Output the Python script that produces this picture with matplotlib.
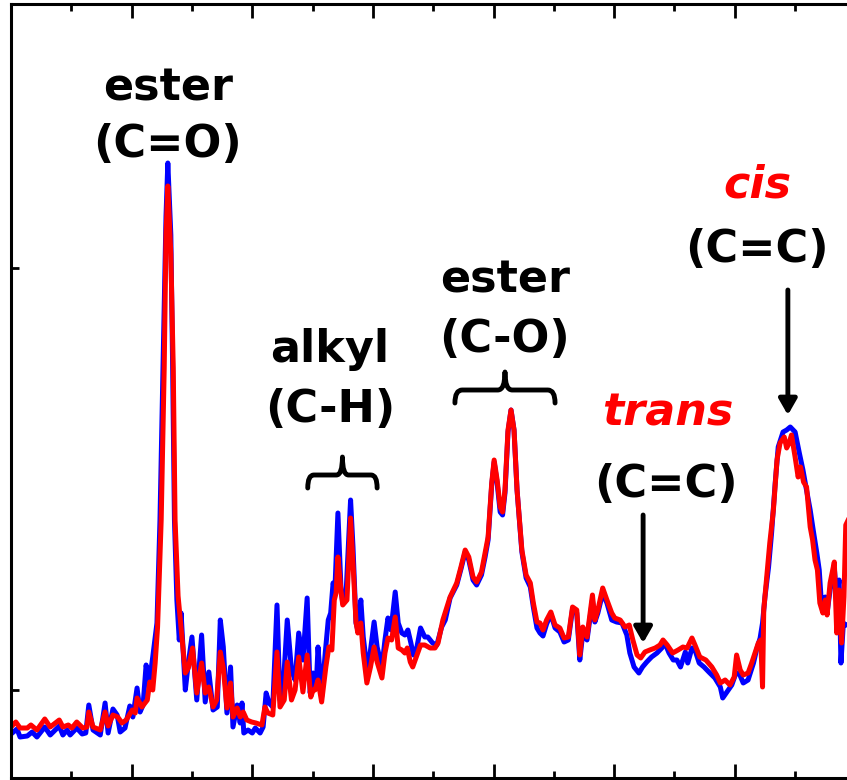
import numpy as np
import matplotlib
matplotlib.use('Agg')
import matplotlib.pyplot as plt
from matplotlib.path import Path
from matplotlib.patches import PathPatch

plt.rcParams['font.family'] = ['DejaVu Sans']

# espectro 1 (azul): numero de onda (cm-1) y absorbancia (u.a.)
wn_azul = [2000, 1990, 1985, 1973, 1965, 1957, 1944, 1935, 1920, 1914, 1907, 1902, 1891, 1882,
           1876, 1871, 1864, 1852, 1844, 1839, 1831, 1824, 1819, 1811, 1803, 1798, 1791, 1786,
           1781, 1776, 1771, 1765, 1758, 1753, 1748, 1743, 1740, 1735, 1732, 1729, 1725, 1721,
           1718, 1711, 1706, 1700, 1692, 1684, 1678, 1672, 1665, 1658, 1653, 1648, 1642, 1636,
           1632, 1625, 1620, 1617, 1614, 1607, 1600, 1595, 1587, 1582, 1577, 1572, 1566, 1559,
           1554, 1549, 1542, 1535, 1529, 1523, 1516, 1509, 1504, 1499, 1494, 1491, 1485, 1479,
           1474, 1470, 1466, 1463, 1458, 1453, 1450, 1445, 1437, 1433, 1428, 1425, 1420, 1416,
           1410, 1406, 1398, 1393, 1385, 1380, 1375, 1370, 1363, 1358, 1352, 1347, 1342, 1337,
           1333, 1327, 1321, 1314, 1309, 1301, 1294, 1286, 1280, 1272, 1261, 1254, 1247, 1241,
           1234, 1228, 1220, 1214, 1209, 1203, 1199, 1194, 1189, 1185, 1181, 1176, 1171, 1166,
           1161, 1153, 1146, 1139, 1134, 1128, 1123, 1118, 1112, 1105, 1098, 1090, 1083, 1076,
           1069, 1062, 1057, 1052, 1045, 1036, 1032, 1027, 1019, 1012, 1004, 996, 987, 979,
           974, 967, 959, 953, 946, 938, 929, 921, 916, 909, 902, 896, 890, 882,
           878, 871, 866, 859, 851, 843, 833, 824, 820, 813, 805, 798, 793, 786,
           778, 769, 764, 758, 754, 750, 744, 739, 733, 728, 720, 714, 708, 700,
           693, 687, 682, 675, 670, 664, 660, 656, 650, 647, 642, 635, 631, 627,
           624, 620, 616, 612]
abs_azul = [46, 51, 43, 44, 48, 43, 53, 45, 54, 45, 50, 45, 52, 46,
            47, 75, 50, 45, 77, 47, 71, 65, 48, 52, 74, 63, 92, 68,
            75, 115, 96, 123, 157, 260, 412, 564, 617, 545, 412, 260, 180, 140,
            167, 90, 117, 143, 80, 145, 78, 108, 70, 73, 160, 133, 67, 113,
            53, 75, 57, 77, 47, 50, 47, 52, 47, 53, 87, 77, 73, 175,
            80, 90, 160, 110, 100, 147, 120, 182, 87, 107, 93, 133, 83, 127,
            160, 167, 197, 190, 267, 193, 177, 180, 280, 233, 157, 150, 180, 143,
            113, 120, 158, 133, 113, 140, 162, 150, 188, 157, 147, 145, 150, 137,
            125, 133, 152, 143, 143, 137, 135, 153, 160, 182, 195, 211, 228, 220,
            200, 195, 205, 223, 240, 295, 318, 297, 268, 265, 287, 348, 370, 350,
            290, 228, 202, 193, 173, 152, 147, 144, 156, 166, 152, 148, 138, 140,
            171, 167, 120, 147, 140, 180, 158, 167, 187, 177, 160, 158, 157, 145,
            127, 113, 107, 113, 118, 123, 127, 132, 137, 127, 120, 120, 113, 128,
            117, 132, 130, 117, 113, 108, 102, 93, 82, 88, 95, 107, 107, 97,
            100, 117, 130, 142, 157, 183, 213, 247, 297, 333, 348, 350, 353, 348,
            327, 310, 293, 270, 250, 227, 210, 173, 183, 167, 190, 212, 183, 200,
            117, 157, 155, 155]

# espectro 2 (rojo)
wn_rojo = [2000, 1992, 1985, 1973, 1967, 1957, 1944, 1935, 1920, 1914, 1905, 1899, 1891, 1881,
           1874, 1871, 1864, 1852, 1844, 1839, 1831, 1823, 1816, 1809, 1799, 1794, 1791, 1783,
           1774, 1770, 1765, 1761, 1757, 1751, 1746, 1743, 1740, 1735, 1731, 1728, 1723, 1720,
           1711, 1706, 1699, 1692, 1684, 1678, 1672, 1665, 1659, 1653, 1648, 1642, 1636, 1632,
           1625, 1620, 1615, 1609, 1601, 1594, 1584, 1579, 1574, 1566, 1559, 1554, 1547, 1542,
           1535, 1529, 1523, 1516, 1509, 1503, 1499, 1496, 1491, 1485, 1478, 1473, 1468, 1464,
           1461, 1458, 1453, 1450, 1443, 1437, 1433, 1428, 1425, 1420, 1416, 1410, 1404, 1398,
           1393, 1385, 1380, 1375, 1369, 1363, 1358, 1352, 1347, 1343, 1338, 1334, 1327, 1321,
           1314, 1305, 1297, 1292, 1284, 1272, 1261, 1254, 1247, 1241, 1234, 1228, 1220, 1214,
           1209, 1203, 1199, 1194, 1189, 1185, 1181, 1176, 1171, 1166, 1161, 1153, 1146, 1139,
           1134, 1128, 1123, 1118, 1112, 1105, 1098, 1090, 1083, 1076, 1069, 1062, 1057, 1052,
           1045, 1036, 1032, 1027, 1019, 1012, 1004, 999, 990, 982, 975, 969, 962, 956,
           949, 941, 932, 924, 919, 912, 903, 894, 886, 879, 871, 866, 858, 848,
           838, 830, 824, 816, 808, 801, 797, 791, 786, 778, 772, 766, 761, 757,
           754, 752, 747, 742, 736, 730, 725, 718, 714, 710, 706, 700, 695, 691,
           686, 681, 675, 671, 667, 663, 659, 654, 650, 647, 642, 635, 631, 627,
           623, 619, 616, 612]
abs_rojo = [53, 58, 52, 52, 55, 50, 61, 53, 60, 53, 55, 52, 58, 52,
            53, 68, 53, 50, 68, 54, 65, 63, 57, 60, 70, 67, 82, 73,
            80, 98, 90, 117, 153, 260, 412, 545, 594, 526, 412, 260, 184, 165,
            107, 112, 132, 87, 117, 87, 93, 73, 80, 128, 112, 72, 97, 63,
            72, 63, 68, 60, 58, 57, 55, 73, 67, 65, 128, 73, 80, 118,
            80, 90, 123, 88, 125, 83, 90, 90, 100, 78, 113, 133, 130, 180,
            187, 223, 190, 175, 180, 262, 217, 158, 147, 157, 127, 97, 113, 133,
            118, 102, 127, 142, 140, 163, 132, 130, 127, 132, 118, 113, 125, 135,
            135, 132, 132, 137, 160, 183, 197, 213, 230, 223, 203, 198, 208, 227,
            243, 297, 320, 300, 273, 268, 290, 350, 370, 350, 290, 230, 205, 197,
            177, 158, 157, 150, 160, 168, 155, 152, 142, 143, 173, 170, 125, 153,
            143, 185, 160, 170, 192, 180, 167, 162, 160, 153, 155, 140, 125, 122,
            128, 130, 132, 135, 140, 135, 127, 130, 133, 132, 142, 135, 123, 120,
            113, 105, 97, 100, 95, 103, 125, 110, 105, 107, 117, 128, 137, 140,
            93, 170, 203, 237, 270, 320, 337, 343, 332, 337, 345, 323, 303, 313,
            298, 293, 253, 240, 220, 210, 177, 167, 180, 165, 197, 218, 147, 190,
            137, 183, 255, 260]


def llave(ax, x0, x1, y, y_ext, y_pico, r):
    ''' dibuja una llave horizontal con el pico hacia arriba '''
    xc = (x0 + x1) / 2
    s = -1 if x1 < x0 else 1
    verts = [(x0, y_ext), (x0, y), (x0 + s * r, y),
             (xc - s * r, y), (xc, y), (xc, y_pico),
             (xc, y), (xc + s * r, y),
             (x1 - s * r, y), (x1, y), (x1, y_ext)]
    codes = [Path.MOVETO, Path.CURVE3, Path.CURVE3,
             Path.LINETO, Path.CURVE3, Path.CURVE3,
             Path.CURVE3, Path.CURVE3,
             Path.LINETO, Path.CURVE3, Path.CURVE3]
    ax.add_patch(PathPatch(Path(verts, codes), fill=False, lw=3.5, color='black',
                           capstyle='round', joinstyle='round'))


fig = plt.figure(figsize=(8.47, 7.80), dpi=100)
ax = fig.add_axes([11 / 847, 2 / 780, 1.0112, 0.9923])

ax.plot(wn_azul, abs_azul, color='#0000ff', lw=3.6, solid_joinstyle='round')
ax.plot(wn_rojo, abs_rojo, color='#ff0000', lw=3.6, solid_joinstyle='round')

ax.set_xlim(2000, 580)
ax.set_ylim(2, 776)
ax.set_xticks([1800, 1600, 1400, 1200, 1000, 800])
ax.set_xticks(np.arange(1900, 600, -200), minor=True)
ax.set_yticks([90, 512])
ax.set_xticklabels([])
ax.set_yticklabels([])
ax.tick_params(axis='x', which='major', direction='in', length=10, width=2, top=True)
ax.tick_params(axis='x', which='minor', direction='in', length=5, width=2, top=True)
ax.tick_params(axis='y', direction='in', length=6, width=2)
for sp in ax.spines.values():
    sp.set_linewidth(2.2)

# etiquetas
fs = 32
kw = dict(ha='center', va='baseline', fontsize=fs, fontweight='bold')
ax.text(1740, 680, 'ester', **kw)
ax.text(1740, 623, '(C=O)', **kw)
ax.text(1471, 418, 'alkyl', **kw)
ax.text(1471, 358, '(C-H)', **kw)
ax.text(1181, 488, 'ester', **kw)
ax.text(1181, 428, '(C-O)', **kw)
ax.text(911, 355, 'trans', color='#ff0000', style='italic', **kw)
ax.text(914, 283, '(C=C)', **kw)
ax.text(763, 583, 'cis', color='#ff0000', style='italic', **kw)
ax.text(763, 518, '(C=C)', **kw)

llave(ax, 1508, 1393, 305, 292, 323, 10)
llave(ax, 1264, 1098, 390, 377, 408, 12)

flecha = dict(arrowstyle='-|>,head_length=0.47,head_width=0.27', lw=3.5, color='black',
              mutation_scale=20, shrinkA=0, shrinkB=0)
ax.annotate('', xy=(952, 137), xytext=(952, 265), arrowprops=flecha)
ax.annotate('', xy=(712, 365), xytext=(712, 490), arrowprops=flecha)

fig.savefig('out.png', dpi=100)
